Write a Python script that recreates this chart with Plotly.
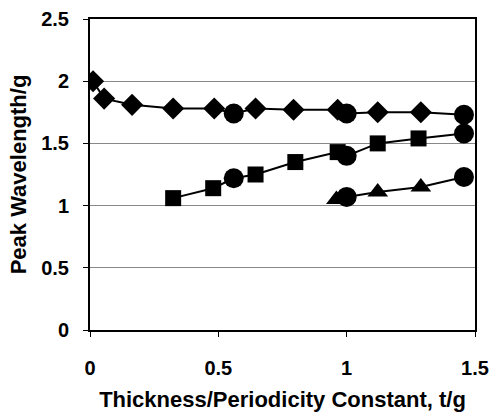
import plotly.graph_objects as go

# Series 1 (diamonds)
dia_x = [0.012, 0.055, 0.164, 0.324, 0.484, 0.645, 0.793, 0.965, 1.121, 1.289]
dia_y = [2.00, 1.86, 1.81, 1.78, 1.78, 1.78, 1.77, 1.77, 1.75, 1.75]
dia_cx = [0.56, 1.00, 1.457]
dia_cy = [1.74, 1.74, 1.73]

# Series 2 (squares)
sq_x = [0.324, 0.48, 0.645, 0.80, 0.965, 1.121, 1.28]
sq_y = [1.06, 1.14, 1.25, 1.35, 1.43, 1.50, 1.54]
sq_cx = [0.56, 1.00, 1.457]
sq_cy = [1.22, 1.40, 1.58]

# Series 3 (triangles)
tri_x = [0.96, 1.121, 1.289]
tri_y = [1.05, 1.11, 1.15]
tri_cx = [1.00, 1.457]
tri_cy = [1.07, 1.23]

x_ticks = [0, 0.5, 1, 1.5]
y_ticks = [0, 0.5, 1, 1.5, 2, 2.5]

FONT = "Liberation Sans, Arial, sans-serif"

fig = go.Figure()

def add_series(mx, my, cx, cy, symbol, size):
    pts = sorted(list(zip(mx, my)) + list(zip(cx, cy)))
    fig.add_trace(go.Scatter(x=[p[0] for p in pts], y=[p[1] for p in pts],
                             mode="lines", line=dict(color="black", width=2),
                             showlegend=False, hoverinfo="skip"))
    fig.add_trace(go.Scatter(x=mx, y=my, mode="markers",
                             marker=dict(symbol=symbol, size=size, color="black"),
                             showlegend=False))
    fig.add_trace(go.Scatter(x=cx, y=cy, mode="markers",
                             marker=dict(symbol="circle", size=20, color="black"),
                             showlegend=False))

add_series(dia_x, dia_y, dia_cx, dia_cy, "diamond", 17)
add_series(sq_x, sq_y, sq_cx, sq_cy, "square", 16)
add_series(tri_x, tri_y, tri_cx, tri_cy, "triangle-up", 18)

fig.update_layout(
    width=490, height=417,
    margin=dict(l=90, r=15, t=19, b=87),
    paper_bgcolor="white", plot_bgcolor="white",
    font=dict(family=FONT, color="black"),
)
fig.update_xaxes(
    range=[0, 1.5], tickvals=x_ticks, ticktext=[f"{v:g}" for v in x_ticks],
    showgrid=False, zeroline=False, automargin=False,
    showline=True, linecolor="black", linewidth=2, mirror=True,
    ticks="outside", ticklen=5, tickcolor="black", tickwidth=1,
    tickfont=dict(size=20, family=FONT, weight="bold"),
    ticklabelstandoff=14,
    title=dict(text="Thickness/Periodicity Constant, t/g",
               font=dict(size=22, family=FONT, weight="bold"), standoff=14),
)
fig.update_yaxes(
    range=[0, 2.5], tickvals=y_ticks, ticktext=[f"{v:g}" for v in y_ticks],
    showgrid=True, gridcolor="#888888", gridwidth=1, zeroline=False, automargin=False,
    showline=True, linecolor="black", linewidth=2, mirror=True,
    ticks="outside", ticklen=5, tickcolor="black", tickwidth=1,
    tickfont=dict(size=20, family=FONT, weight="bold"),
    ticklabelstandoff=10,
    title=dict(text="Peak Wavelength/g",
               font=dict(size=22, family=FONT, weight="bold"), standoff=8),
)

fig.write_html("out.html")
